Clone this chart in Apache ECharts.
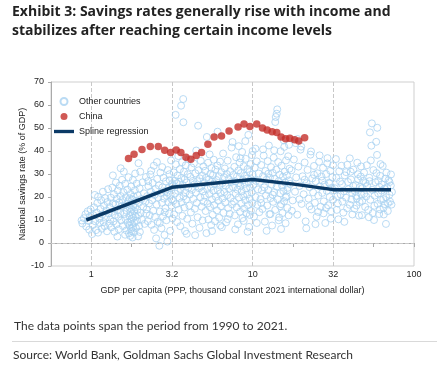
<!DOCTYPE html>
<html><head><meta charset="utf-8">
<script src="https://cdn.jsdelivr.net/npm/echarts@6.0.0/dist/echarts.min.js"></script>
<style>html,body{margin:0;padding:0;background:#fff}#c{width:442px;height:369px}</style>
</head><body><div id="c"></div><script>
const titleLine1 = 'Exhibit 3: Savings rates generally rise with income and';
const titleLine2 = 'stabilizes after reaching certain income levels';
const noteText = 'The data points span the period from 1990 to 2021.';
const sourceText = 'Source: World Bank, Goldman Sachs Global Investment Research';
const xAxisName = 'GDP per capita (PPP, thousand constant 2021 international dollar)';
const yAxisName = 'National savings rate (% of GDP)';
const xTickValues = [1, 3.1623, 10, 31.623, 100];
const xTickLabels = ['1', '3.2', '10', '32', '100'];
const yMin = -10, yMax = 70, yStep = 10;
const xMin = 0.5623, xMax = 100;
const seriesNames = ['Other countries', 'China', 'Spline regression'];

const chinaGdp = [1.70,1.84,2.06,2.32,2.60,2.85,3.10,3.36,3.59,3.86,4.14,4.47,4.82,5.28,5.77,6.41,7.14,8.12,8.84,9.62,10.6,11.5,12.3,13.2,14.1,15.0,16.0,17.0,18.2,19.3,21.0];
const chinaRate = [36.7,38.6,40.7,42.0,42.0,40.3,39.4,40.4,39.4,37.3,36.4,38.0,39.4,42.9,46.1,46.5,48.7,50.4,51.7,50.6,51.7,50.0,49.1,48.4,48.0,46.1,45.3,45.5,44.9,44.3,45.8];

const splineGdp = [0.93, 3.16, 10, 18, 31.6, 72];
const splineRate = [10.0, 24.2, 27.6, 25.6, 23.2, 23.1];

const otherCountries = [
[0.88,8.5],[0.9,10.8],[0.92,12.5],[0.93,7.2],[0.95,13.8],[0.96,9.6],[0.97,5.8],[0.98,11.5],[0.99,14.6],[0.87,9.8],
[1.01,3.9],[1.02,7.8],[1.03,12.1],[1.04,15.5],[1.05,20.9],[1.06,9.4],[1.07,5.6],[1.08,13.2],[1.09,17.4],[1.1,20.1],[1.1,4.5],[1.12,10.6],[1.13,8.7],[1.14,14.8],[1.15,18.6],[1.16,6.2],[1.17,12.4],[1.18,22.3],[1.19,9.1],[1.2,16.2],[1.21,7.3],[1.22,19.5],[1.23,11.0],[1.24,14.1],[1.25,5.1],[1.26,17.8],[1.27,23.4],[1.28,12.9],[1.29,8.4],
[1.3,15.6],[1.31,10.2],[1.32,19.7],[1.33,6.8],[1.34,13.5],[1.35,24.1],[1.36,17.3],[1.37,9.4],[1.38,21.2],[1.39,4.9],[1.4,12.2],[1.41,16.8],[1.42,26.3],[1.43,8.1],[1.44,19.2],[1.45,14.3],[1.46,22.8],[1.47,11.4],[1.48,6.0],[1.49,17.6],[1.5,24.9],[1.51,13.1],[1.52,20.4],[1.53,9.8],[1.54,15.9],[1.55,27.5],[1.56,18.7],[1.57,7.4],[1.58,22.1],[1.59,31.0],[1.6,12.6],[1.61,16.4],[1.62,25.7],[1.63,10.5],[1.64,19.9],[1.65,5.5],[1.66,14.0],[1.67,23.2],[1.68,8.9],[1.69,18.1],[1.7,28.6],[1.45,2.8],[1.36,29.4],[1.52,32.5],[1.62,3.6],
[1.71,4.2],[1.72,7.6],[1.72,11.8],[1.73,15.2],[1.73,19.4],[1.74,3.1],[1.74,9.3],[1.75,13.6],[1.75,21.3],[1.76,6.1],[1.76,17.1],[1.77,10.4],[1.77,24.6],[1.78,5.2],[1.78,14.7],[1.79,8.2],[1.79,18.9],[1.8,2.4],[1.8,12.5],[1.81,27.4],[1.81,6.8],[1.82,16.1],[1.82,10.9],[1.83,20.2],[1.84,4.6],[1.84,13.9],[1.85,8.8],[1.86,22.9],[1.87,15.6],[1.88,11.7],[1.89,6.5],[1.9,18.3],[1.91,25.8],[1.92,9.7],[1.93,14.4],[1.94,20.7],[1.95,12.0],[1.96,34.7],[1.97,17.5],[1.98,7.4],[1.99,23.8],[2.01,31.0],[2.02,13.2],[2.04,19.1],[2.06,10.1],[2.08,26.4],[2.1,15.8],[2.12,21.6],[2.14,8.3],[2.16,17.9],[2.18,28.7],[2.19,12.8],[1.87,30.2],[2.0,4.8],[1.95,2.9],
[2.2,14.6],[2.22,20.4],[2.24,9.5],[2.26,24.7],[2.28,17.2],[2.3,12.1],[2.32,29.8],[2.34,22.3],[2.36,7.9],[2.38,18.6],[2.4,26.1],[2.42,14.0],[2.44,33.6],[2.46,20.9],[2.48,11.3],[2.5,23.5],[2.52,2.0],[2.54,16.7],[2.56,27.9],[2.58,9.2],[2.6,19.8],[2.62,25.0],[2.64,-1.2],[2.66,13.7],[2.68,30.6],[2.7,21.7],[2.72,6.4],[2.74,17.5],[2.76,24.2],[2.78,11.6],[2.8,28.4],[2.82,19.3],[2.84,3.5],[2.86,22.6],[2.88,15.1],[2.9,26.8],[2.92,9.9],[2.94,20.5],[2.96,0.6],[2.98,31.7],[3.0,17.8],[3.02,23.9],[3.04,12.8],[3.06,27.3],[3.08,5.3],[3.1,21.0],[3.12,35.9],[3.14,16.2],[3.16,25.6],[3.18,10.7],[2.35,31.4],[2.55,35.2],[2.75,33.0],[2.45,5.7],[2.65,8.6],[2.85,13.4],[3.05,29.9],[2.25,26.9],[2.95,22.1],[3.15,19.0],
[3.2,24.8],[3.22,18.3],[3.24,30.7],[3.26,12.4],[3.28,27.1],[3.3,21.5],[3.33,55.7],[3.34,34.2],[3.36,16.9],[3.38,25.9],[3.4,9.1],[3.42,29.3],[3.44,22.7],[3.46,37.8],[3.48,14.5],[3.5,26.6],[3.52,19.6],[3.54,32.1],[3.56,7.3],[3.58,23.4],[3.6,59.7],[3.61,28.2],[3.63,17.7],[3.65,35.1],[3.67,11.8],[3.69,25.2],[3.71,62.6],[3.72,52.5],[3.73,20.3],[3.75,31.0],[3.77,15.4],[3.79,27.7],[3.81,5.2],[3.83,22.0],[3.85,33.8],[3.87,18.9],[3.9,26.3],[3.93,10.5],[3.96,29.9],[3.99,24.0],[4.02,36.4],[4.05,16.2],[4.08,21.1],[4.11,28.8],[4.14,13.3],[4.17,32.9],[4.2,23.1],[4.23,8.4],[4.26,27.0],[4.29,19.2],[4.32,34.6],[4.35,25.5],[4.38,14.9],[4.41,30.3],[4.44,21.9],[4.47,40.2],[4.5,17.4],[4.53,26.9],[4.56,11.2],[4.59,51.0],[4.62,31.6],[4.65,23.8],[4.68,6.6],[4.71,28.1],[4.74,19.9],[4.77,35.7],[4.8,24.6],[4.83,15.8],[4.86,29.4],[4.89,9.8],[4.92,22.4],[4.95,33.3],[4.98,18.0],[3.9,4.0],[4.4,3.4],
[5.02,26.2],[5.05,20.6],[5.08,31.4],[5.11,13.9],[5.14,28.3],[5.17,4.3],[5.2,46.1],[5.23,23.5],[5.26,17.2],[5.29,34.9],[5.32,10.2],[5.35,27.6],[5.38,21.3],[5.41,38.5],[5.44,15.6],[5.47,30.1],[5.5,24.4],[5.53,7.8],[5.56,32.6],[5.59,19.0],[5.62,26.7],[5.65,12.3],[5.68,29.5],[5.71,22.8],[5.74,36.2],[5.77,16.5],[5.8,25.8],[5.84,9.5],[5.88,31.9],[5.92,20.1],[5.96,27.4],[6.0,14.2],[6.04,33.7],[6.06,48.4],[6.08,23.0],[6.12,18.4],[6.16,29.0],[6.2,11.0],[6.24,25.1],[6.28,35.4],[6.32,21.6],[6.36,16.0],[6.4,30.8],[6.44,6.9],[6.48,26.0],[6.52,19.4],[6.56,38.9],[6.6,13.1],[6.64,28.6],[6.68,22.2],[6.72,32.4],[6.76,17.6],[6.8,24.9],[6.85,9.0],[6.9,30.0],[6.95,20.8],[7.0,35.8],[7.05,15.2],[7.1,27.9],[7.15,23.6],[7.2,12.7],[7.25,31.2],[7.3,19.6],[7.35,26.5],[7.4,41.5],[7.45,16.8],[7.5,43.9],[5.6,5.2],[6.3,7.6],[7.0,10.4],
[7.55,24.3],[7.6,29.6],[7.65,18.0],[7.7,33.1],[7.75,12.0],[7.8,26.8],[7.85,21.4],[7.9,37.3],[7.95,15.5],[8.0,28.9],[8.05,23.2],[8.1,8.1],[8.15,31.5],[8.2,19.8],[8.25,26.1],[8.3,35.0],[8.35,13.6],[8.4,24.7],[8.45,30.4],[8.5,17.1],[8.55,22.5],[8.6,39.6],[8.65,10.8],[8.7,27.3],[8.75,20.4],[8.8,33.4],[8.85,15.0],[8.9,25.7],[8.95,29.2],[9.0,18.6],[9.05,36.6],[9.1,23.7],[9.15,12.9],[9.2,28.0],[9.25,21.0],[9.3,32.2],[9.35,16.4],[9.4,47.0],[9.45,26.4],[9.5,7.0],[9.55,30.9],[9.6,19.2],[9.65,24.1],[9.7,34.3],[9.75,14.1],[9.8,27.7],[9.85,22.0],[9.9,38.2],[9.95,17.3],[10.0,29.8],[10.1,25.3],[10.2,11.5],[10.3,32.8],[10.4,20.0],[10.5,27.0],[10.6,35.5],[10.7,16.6],[10.8,23.3],[10.9,30.2],[11.0,13.4],[8.2,42.1],[9.0,44.3],[10.4,41.0],[7.8,5.9],[8.8,9.6],[10.6,8.7],[9.3,4.9],[10.0,40.0],[8.4,36.8],[9.6,12.2],
[11.1,26.6],[11.2,19.1],[11.3,33.9],[11.4,22.9],[11.5,14.8],[11.6,29.1],[11.7,38.0],[11.8,24.2],[11.9,9.3],[12.0,31.3],[12.1,20.7],[12.2,27.5],[12.3,16.3],[12.4,35.6],[12.5,23.0],[12.6,42.4],[12.7,12.5],[12.8,28.4],[12.9,19.5],[13.0,33.0],[13.1,25.4],[13.2,7.6],[13.3,30.5],[13.4,17.9],[13.5,37.1],[13.6,22.1],[13.7,27.9],[13.8,14.4],[13.9,54.8],[14.0,31.9],[14.1,24.5],[14.2,58.1],[14.3,19.0],[14.4,35.2],[14.5,26.9],[14.6,11.1],[14.7,29.7],[14.8,21.6],[14.9,39.9],[15.0,16.9],[15.1,33.6],[15.2,25.0],[15.3,13.0],[15.4,28.8],[15.5,22.6],[15.6,44.6],[15.7,18.2],[15.8,31.0],[15.9,26.3],[16.0,8.6],[16.1,35.9],[16.2,20.3],[16.3,29.3],[16.4,15.3],[16.5,24.0],[16.6,37.7],[16.7,12.0],[16.8,27.2],[16.9,32.3],[14.1,56.2],[13.8,52.6],[12.2,5.3],[15.0,6.1],[11.6,40.7],[12.9,12.6],[13.6,40.3],[14.8,16.0],[15.7,41.8],[16.4,23.0],[11.3,17.4],[12.5,30.1],[13.3,21.0],[14.5,9.9],[16.0,19.8],[16.8,42.7],
[17.1,25.7],[17.4,31.6],[17.7,18.5],[18.0,36.3],[18.3,22.3],[18.6,28.5],[18.9,12.3],[19.2,33.2],[19.5,24.8],[19.8,40.6],[20.1,17.0],[20.4,29.0],[20.7,21.2],[21.0,35.0],[21.3,9.4],[21.6,26.0],[21.9,31.8],[22.2,19.3],[22.5,24.3],[22.8,38.4],[23.1,14.6],[23.4,28.1],[23.7,22.0],[24.0,33.5],[24.3,17.5],[24.6,26.8],[24.9,11.4],[25.2,30.3],[25.5,20.6],[25.8,35.3],[26.1,24.6],[26.4,15.8],[26.7,28.9],[27.0,21.8],[27.3,32.7],[27.6,18.1],[27.9,25.4],[28.2,8.7],[28.5,30.0],[28.8,22.7],[29.1,36.9],[29.4,16.4],[29.7,26.2],[30.0,20.0],[30.3,31.4],[30.6,13.8],[30.9,24.0],[31.2,28.6],[31.5,18.8],[31.8,22.9],[18.5,43.4],[19.0,45.2],[20.0,41.9],[21.5,6.4],[23.0,39.8],[24.5,8.2],[26.0,38.1],[27.5,12.9],[29.0,34.6],[30.5,10.6],[17.5,14.0],[19.5,19.0],[21.0,27.5],[22.5,16.0],[24.0,29.7],[25.5,13.5],[27.0,27.1],[28.5,15.2],[30.0,25.9],[31.5,33.8],
[32.3,23.8],[33.0,28.3],[33.7,17.2],[34.4,31.2],[35.1,21.1],[35.8,25.6],[36.5,13.2],[37.2,29.4],[37.9,19.7],[38.6,34.0],[39.3,23.4],[40.0,16.6],[40.7,27.6],[41.4,21.7],[42.1,31.9],[42.8,14.9],[43.5,25.1],[44.2,19.4],[44.9,29.9],[45.6,11.9],[46.3,24.4],[47.0,33.3],[47.7,18.3],[48.4,27.0],[49.1,21.4],[49.8,15.7],[32.8,36.5],[34.0,10.3],[35.5,33.6],[37.0,9.2],[38.5,15.1],[40.0,36.8],[41.5,12.4],[43.0,22.6],[44.5,34.9],[46.0,17.8],[47.5,12.1],[49.0,30.6],[33.5,20.4],[36.0,18.0],[39.0,26.5],[42.0,24.8],[45.0,27.8],[48.0,23.9],[34.8,26.7],[38.0,30.8],[41.0,19.0],[44.0,16.3],[46.8,28.9],[36.8,22.5],[40.5,31.0],[43.8,20.5],[47.2,21.0],[50.0,26.1],[33.2,14.4],
[50.5,20.2],[51.2,24.9],[52.0,14.4],[52.8,28.4],[53.3,48.1],[53.6,18.8],[54.4,42.3],[54.8,52.0],[55.2,23.1],[56.0,31.7],[56.8,16.2],[57.6,26.4],[58.3,44.0],[59.0,38.3],[59.2,50.1],[60.0,21.6],[60.8,12.6],[61.6,29.2],[62.4,18.7],[63.2,25.5],[64.0,33.5],[64.8,15.3],[65.6,23.6],[66.4,28.0],[67.0,8.3],[67.2,19.9],[68.0,24.2],[68.8,13.9],[69.6,27.3],[70.4,21.0],[71.0,18.0],[71.8,25.0],[72.5,16.7],[73.0,22.2],[51.0,33.8],[52.5,11.2],[54.0,35.9],[55.5,13.0],[57.0,20.6],[58.5,30.4],[60.0,27.0],[61.5,14.6],[63.0,22.8],[64.5,19.1],[66.0,16.9],[67.5,30.6],[69.0,17.3],[70.5,26.5],[72.0,29.8],[56.5,10.0],[62.0,34.3],[65.0,12.4],[53.0,26.9],[59.5,17.0],[61.0,24.4]
];

const chart = echarts.init(document.getElementById('c'), null, {renderer: 'canvas'});
const axisFont = {fontFamily: 'Liberation Sans, Arial, sans-serif', fontSize: 9, color: '#222'};
function xLabel(v) {
  for (let i = 0; i < xTickValues.length; i++) {
    if (Math.abs(Math.log10(v) - Math.log10(xTickValues[i])) < 0.01) return xTickLabels[i];
  }
  return '';
}
const option = {
  animation: false,
  backgroundColor: '#fff',
  graphic: [
    {type: 'text', left: 12, top: 5, style: {text: titleLine1, font: 'bold 14px "Open Sans", sans-serif', fill: '#222'}},
    {type: 'text', left: 12, top: 24, style: {text: titleLine2, font: 'bold 14px "Open Sans", sans-serif', fill: '#222'}},
    {type: 'text', left: 14, top: 320, style: {text: noteText, font: '12px Lato, "Open Sans", sans-serif', fill: '#333'}},
    {type: 'rect', shape: {x: 12, y: 341, width: 425, height: 0.8}, style: {fill: '#cccccc'}},
    {type: 'text', left: 13, top: 349, style: {text: sourceText, font: '12px Lato, "Open Sans", sans-serif', fill: '#333'}}
  ],
  grid: {left: 51, right: 28, top: 82, bottom: 103, show: true, borderColor: '#cfcfcf', borderWidth: 1, backgroundColor: 'transparent'},
  legend: {
    orient: 'vertical', left: 54, top: 97, padding: 0, itemWidth: 20, itemHeight: 7, itemGap: 6,
    textStyle: {fontFamily: 'Liberation Sans, Arial, sans-serif', fontSize: 9, color: '#222'},
    data: [
      {name: seriesNames[0], icon: 'circle'},
      {name: seriesNames[1], icon: 'circle'},
      {name: seriesNames[2], icon: 'path://M0,0 L24,0 L24,4 L0,4 Z'}
    ]
  },
  xAxis: {
    type: 'log', logBase: Math.pow(10, 0.25), min: xMin, max: xMax,
    name: xAxisName, nameLocation: 'middle', nameGap: 20, nameMoveOverlap: false,
    nameTextStyle: axisFont,
    axisLine: {lineStyle: {color: '#aaaaaa'}},
    axisTick: {show: true, length: 4, lineStyle: {color: '#aaaaaa'}},
    axisLabel: Object.assign({formatter: xLabel, margin: 4, showMinLabel: false}, axisFont),
    splitLine: {show: false}
  },
  yAxis: {
    type: 'value', min: yMin, max: yMax, interval: yStep,
    name: yAxisName, nameLocation: 'middle', nameGap: 24, nameRotate: 90, nameMoveOverlap: false,
    nameTextStyle: axisFont,
    axisLine: {show: true, lineStyle: {color: '#aaaaaa'}},
    axisTick: {show: true, length: 3, lineStyle: {color: '#aaaaaa'}},
    axisLabel: Object.assign({margin: 7}, axisFont),
    splitLine: {show: false}
  },
  series: [
    {
      name: seriesNames[0], type: 'scatter', symbol: 'circle', symbolSize: 7, z: 2,
      itemStyle: {color: 'rgba(255,255,255,0)', borderColor: '#a9d2f1', borderWidth: 1},
      data: otherCountries,
      markLine: {
        silent: true, symbol: 'none', z: 1, label: {show: false},
        lineStyle: {color: '#c8c8c8', type: 'dashed', width: 1},
        emphasis: {disabled: true},
        data: xTickValues.slice(0, 4).map(v => ({xAxis: v})).concat([{yAxis: 0}])
      }
    },
    {
      name: seriesNames[2], type: 'line', symbol: 'none', z: 3,
      lineStyle: {color: '#0b3a66', width: 3.5}, itemStyle: {color: '#0b3a66'},
      data: splineGdp.map((g, i) => [g, splineRate[i]])
    },
    {
      name: seriesNames[1], type: 'scatter', symbol: 'circle', symbolSize: 7.5, z: 4,
      itemStyle: {color: '#c4302b'},
      data: chinaGdp.map((g, i) => [g, chinaRate[i]])
    }
  ]
};
chart.setOption(option);
</script></body></html>
